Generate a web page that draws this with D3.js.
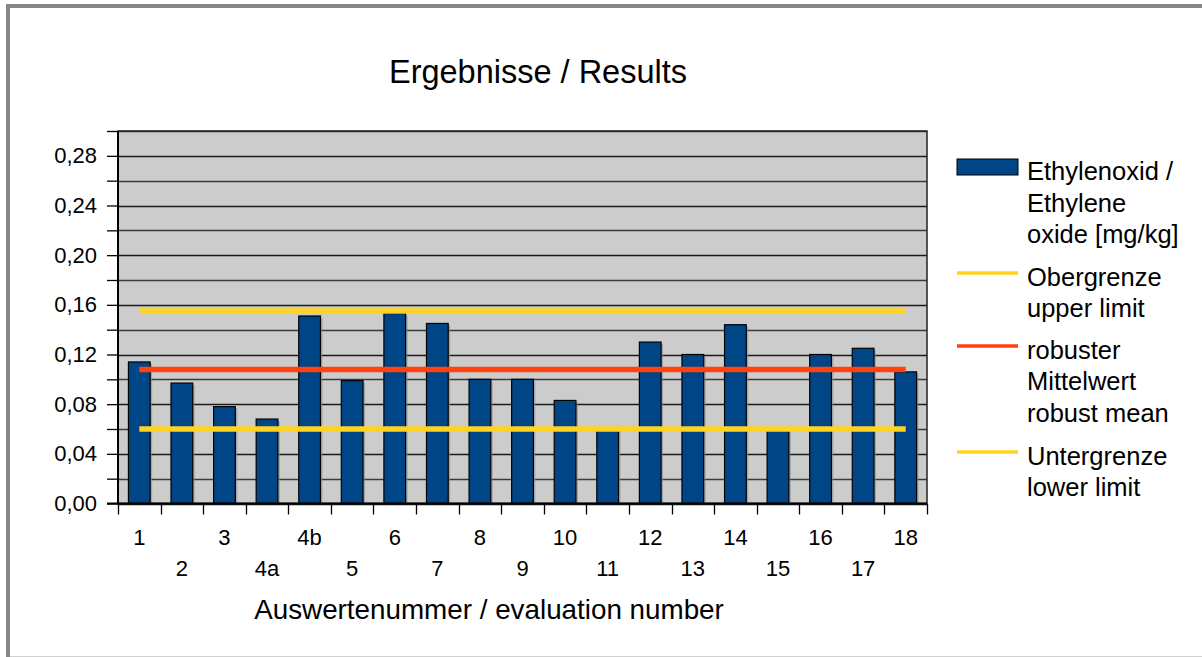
<!DOCTYPE html>
<html>
<head>
<meta charset="utf-8">
<script src="https://cdn.jsdelivr.net/npm/d3@7"></script>
<style>
  body { margin: 0; background: #fff; }
  text { font-family: "Liberation Sans", Arial, sans-serif; fill: #000; }
</style>
</head>
<body>
<div id="chart"></div>
<script>
// data
var categories = ["1", "2", "3", "4a", "4b", "5", "6", "7", "8", "9", "10", "11", "12", "13", "14", "15", "16", "17", "18"];
var values = [0.114, 0.097, 0.078, 0.068, 0.151, 0.099, 0.153, 0.145, 0.100, 0.100, 0.083, 0.059, 0.130, 0.120, 0.144, 0.059, 0.120, 0.125, 0.106];
var limitNames = ["Obergrenze", "robuster Mittelwert", "Untergrenze"];
var limitValues = [0.155, 0.108, 0.060];
var yTicks = [0, 0.02, 0.04, 0.06, 0.08, 0.10, 0.12, 0.14, 0.16, 0.18, 0.20, 0.22, 0.24, 0.26, 0.28, 0.30];
var yLabelTicks = [0, 0.04, 0.08, 0.12, 0.16, 0.20, 0.24, 0.28];
var legendLabels = [
  ["Ethylenoxid /", "Ethylene", "oxide [mg/kg]"],
  ["Obergrenze", "upper limit"],
  ["robuster", "Mittelwert", "robust mean"],
  ["Untergrenze", "lower limit"]
];

var W = 1202, H = 657;
var plot = {left: 118, right: 927, top: 131, bottom: 503.5};
var barColor = "#004586";
var lineColors = ["#ffd320", "#ff420e", "#ffd320"];

var svg = d3.select("#chart").append("svg")
  .attr("width", W)
  .attr("height", H);

// outer frame
svg.append("rect").attr("x", 0).attr("y", 0).attr("width", W).attr("height", H).attr("fill", "#fff");
svg.append("line").attr("x1", 8).attr("x2", W).attr("y1", 6).attr("y2", 6)
  .attr("stroke", "#878787").attr("stroke-width", 4);
svg.append("line").attr("x1", 8).attr("x2", 8).attr("y1", 4).attr("y2", 657)
  .attr("stroke", "#878787").attr("stroke-width", 4);
svg.append("line").attr("x1", 10).attr("x2", W).attr("y1", 656.5).attr("y2", 656.5)
  .attr("stroke", "#d0d0d0").attr("stroke-width", 1);

var x = d3.scaleBand()
  .domain(categories)
  .range([plot.left, plot.right])
  .paddingInner(0.49)
  .paddingOuter(0.245);

var y = d3.scaleLinear()
  .domain([0, 0.30])
  .range([plot.bottom, plot.top]);

var comma = d3.formatLocale({decimal: ",", thousands: ".", grouping: [3], currency: ["", "€"]}).format(".2f");

// plot background
svg.append("rect")
  .attr("x", plot.left).attr("y", plot.top)
  .attr("width", plot.right - plot.left).attr("height", plot.bottom - plot.top)
  .attr("fill", "#cccccc");

// grid lines
svg.append("g").selectAll("line")
  .data(yTicks)
  .join("line")
  .attr("x1", plot.left).attr("x2", plot.right)
  .attr("y1", function(d) { return Math.round(y(d)) + 0.5; })
  .attr("y2", function(d) { return Math.round(y(d)) + 0.5; })
  .attr("stroke", function(d) { return yLabelTicks.indexOf(d) >= 0 ? "#1a1a1a" : "#3a3a3a"; })
  .attr("stroke-width", 1.3);

// y axis
var yAxis = svg.append("g")
  .attr("transform", "translate(" + plot.left + ",0)")
  .call(d3.axisLeft(y)
    .tickValues(yTicks)
    .tickSize(11)
    .tickPadding(10)
    .tickFormat(function(d) { return yLabelTicks.indexOf(d) >= 0 ? comma(d) : ""; }));
yAxis.select(".domain").remove();
yAxis.selectAll(".tick line").attr("stroke", "#000").attr("stroke-width", 1.3);
yAxis.selectAll(".tick text")
  .style("font-size", "22px")
  .style("font-family", "'Liberation Sans', Arial, sans-serif")
  .attr("fill", "#000");

// x ticks at category boundaries
var step = x.step();
var bounds = d3.range(categories.length + 1).map(function(i) { return plot.left + i * step; });
svg.append("g").selectAll("line")
  .data(bounds)
  .join("line")
  .attr("x1", function(d) { return Math.round(d) + 0.5; })
  .attr("x2", function(d) { return Math.round(d) + 0.5; })
  .attr("y1", plot.bottom).attr("y2", plot.bottom + 11)
  .attr("stroke", "#000").attr("stroke-width", 1.3);

// x labels, staggered on two rows
svg.append("g").selectAll("text")
  .data(categories)
  .join("text")
  .attr("x", function(d) { return x(d) + x.bandwidth() / 2; })
  .attr("y", function(d, i) { return i % 2 === 0 ? 545 : 576; })
  .attr("text-anchor", "middle")
  .style("font-size", "22px")
  .text(function(d) { return d; });

// bar shadows
svg.append("g").selectAll("rect")
  .data(values)
  .join("rect")
  .attr("x", function(d, i) { return x(categories[i]) + 2; })
  .attr("y", function(d) { return y(d) + 2; })
  .attr("width", x.bandwidth())
  .attr("height", function(d) { return y(0) - y(d) - 2; })
  .attr("fill", "#8c8c8c")
  .attr("opacity", 0.6);

// bars
svg.append("g").selectAll("rect")
  .data(values)
  .join("rect")
  .attr("x", function(d, i) { return x(categories[i]); })
  .attr("y", function(d) { return y(d); })
  .attr("width", x.bandwidth())
  .attr("height", function(d) { return y(0) - y(d); })
  .attr("fill", barColor)
  .attr("stroke", "#000")
  .attr("stroke-width", 1.2);

// plot border
svg.append("rect")
  .attr("x", plot.left).attr("y", plot.top)
  .attr("width", plot.right - plot.left).attr("height", plot.bottom - plot.top)
  .attr("fill", "none")
  .attr("stroke", "#222")
  .attr("stroke-width", 1.5);
svg.append("line")
  .attr("x1", plot.left).attr("x2", plot.left)
  .attr("y1", plot.top).attr("y2", plot.bottom)
  .attr("stroke", "#000").attr("stroke-width", 2);
svg.append("line")
  .attr("x1", plot.left - 11).attr("x2", plot.right)
  .attr("y1", plot.bottom).attr("y2", plot.bottom)
  .attr("stroke", "#000").attr("stroke-width", 2);

// limit / mean lines
var firstC = x(categories[0]) + x.bandwidth() / 2;
var lastC = x(categories[categories.length - 1]) + x.bandwidth() / 2;
svg.append("g").selectAll("line")
  .data(limitValues)
  .join("line")
  .attr("x1", firstC).attr("x2", lastC)
  .attr("y1", function(d) { return y(d); })
  .attr("y2", function(d) { return y(d); })
  .attr("stroke", function(d, i) { return lineColors[i]; })
  .attr("stroke-width", 5.5);

// title
svg.append("text")
  .attr("x", 538).attr("y", 83)
  .attr("text-anchor", "middle")
  .style("font-size", "32.5px")
  .text("Ergebnisse / Results");

// axis title
svg.append("text")
  .attr("x", 489).attr("y", 619)
  .attr("text-anchor", "middle")
  .style("font-size", "27.8px")
  .text("Auswertenummer / evaluation number");

// legend
var legendTop = [180, 285.5, 358.5, 464.5];
var lg = svg.append("g");
legendLabels.forEach(function(lines, k) {
  if (k === 0) {
    lg.append("rect")
      .attr("x", 957).attr("y", 159).attr("width", 61).attr("height", 16)
      .attr("fill", barColor).attr("stroke", "#000").attr("stroke-width", 1);
  } else {
    lg.append("line")
      .attr("x1", 957).attr("x2", 1018)
      .attr("y1", legendTop[k] - 12.5).attr("y2", legendTop[k] - 12.5)
      .attr("stroke", lineColors[k - 1]).attr("stroke-width", 3.5);
  }
  var t = lg.append("text")
    .attr("x", 1027).attr("y", legendTop[k])
    .style("font-size", "25.5px");
  lines.forEach(function(s, j) {
    t.append("tspan").attr("x", 1027).attr("dy", j === 0 ? 0 : 31.5).text(s);
  });
});
</script>
</body>
</html>
